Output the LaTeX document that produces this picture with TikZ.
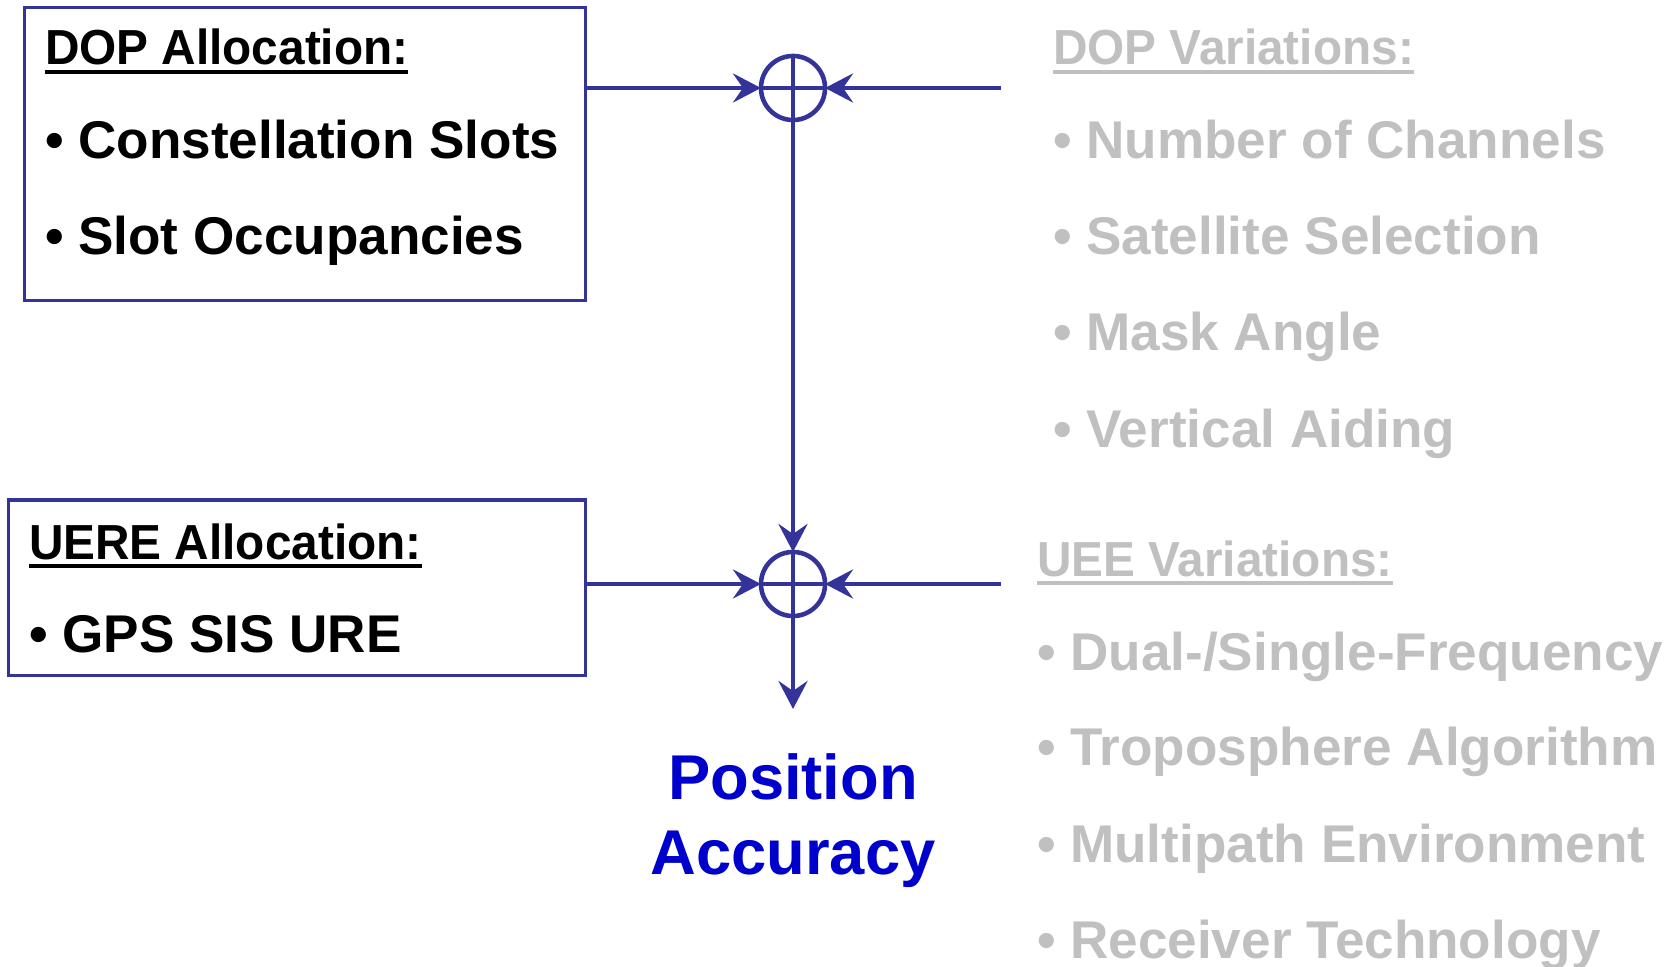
\documentclass[tikz,border=0pt]{standalone}
\usepackage{fontspec}
\setmainfont{Liberation Sans}
\newfontfamily\narrowfont{Liberation Sans}[FakeStretch=0.97]
\usepackage{tikz}
\usetikzlibrary{arrows.meta}
\definecolor{lineblue}{RGB}{51,51,153}
\definecolor{textblue}{RGB}{0,0,204}
\definecolor{lightgray}{RGB}{192,192,192}

\begin{document}
\begin{tikzpicture}[x=0.01cm, y=-0.01cm]
	\tikzstyle{every node} = [inner sep=0pt, outer sep=0pt]
	\tikzstyle{box} = [draw=lineblue, line width=0.9pt, anchor=north west]
	\tikzstyle{head} = [font=\narrowfont\bfseries\fontsize{14}{16}\selectfont, anchor=base west]
	\tikzstyle{item} = [font=\bfseries\fontsize{15.1}{18}\selectfont, anchor=base west]
	\tikzstyle{sum} = [circle, draw=lineblue, line width=1.3pt, minimum size=0.64cm,
		path picture={\draw[lineblue, line width=1.3pt] (path picture bounding box.north) -- (path picture bounding box.south) (path picture bounding box.west) -- (path picture bounding box.east);}]
	\tikzstyle{flow} = [draw=lineblue, line width=1.3pt, -{Stealth[length=0.28cm, width=0.29cm, inset=0.1cm]}]
	\useasboundingbox (0,0) rectangle (1673,967);
	\node[box, minimum width=5.605cm, minimum height=2.925cm] (dopbox) at (24.5,7.5) {};
	\node[box, minimum width=5.765cm, minimum height=1.75cm] (uerebox) at (8.5,500) {};
	\node[sum] (sum1) at (793,88) {};
	\node[sum] (sum2) at (793,584) {};
	\coordinate (dopin) at (1001,88);
	\coordinate (uein) at (1001,584);
	\coordinate (out) at (793,709);
	% left allocations
	\node[head] (dophead) at (45,65) {DOP Allocation:};
	\node[item] (slots) at (45,159) {• Constellation Slots};
	\node[item] (occ) at (45,255) {• Slot Occupancies};
	\node[head] (uerehead) at (29,559) {UERE Allocation:};
	\node[item] (sisure) at (29,652) {• GPS SIS URE};
	% right variations
	\node[head, text=lightgray] (dopvarhead) at (1053,65) {DOP Variations:};
	\node[item, text=lightgray] (chan) at (1053,159) {• Number of Channels};
	\node[item, text=lightgray] (satsel) at (1053,255) {• Satellite Selection};
	\node[item, text=lightgray] (mask) at (1053,351) {• Mask Angle};
	\node[item, text=lightgray] (vert) at (1053,447) {• Vertical Aiding};
	\node[head, text=lightgray] (ueevarhead) at (1037,576) {UEE Variations:};
	\node[item, text=lightgray] (freq) at (1037,670) {• Dual-/Single-Frequency};
	\node[item, text=lightgray] (tropo) at (1037,765) {• Troposphere Algorithm};
	\node[item, text=lightgray] (multi) at (1037,862) {• Multipath Environment};
	\node[item, text=lightgray] (recv) at (1037,958) {• Receiver Technology};
	% result
	\node[font=\bfseries\fontsize{18}{21}\selectfont, text=textblue, anchor=base] (pos) at (793,799) {Position};
	\node[font=\bfseries\fontsize{18}{21}\selectfont, text=textblue, anchor=base] (acc) at (793,874) {Accuracy};
	% underlines
	\draw[line width=1.1pt] ([yshift=-2pt]dophead.base west) -- ([yshift=-2pt]dophead.base east);
	\draw[line width=1.1pt] ([yshift=-2pt]uerehead.base west) -- ([yshift=-2pt]uerehead.base east);
	\draw[lightgray, line width=1.1pt] ([yshift=-2pt]dopvarhead.base west) -- ([yshift=-2pt]dopvarhead.base east);
	\draw[lightgray, line width=1.1pt] ([yshift=-2pt]ueevarhead.base west) -- ([yshift=-2pt]ueevarhead.base east);
	% connectors
	\draw[flow] (dopbox.east |- sum1) -- (sum1);
	\draw[flow] (dopin) -- (sum1);
	\draw[flow] (sum1) -- (sum2);
	\draw[flow] (uerebox.east |- sum2) -- (sum2);
	\draw[flow] (uein) -- (sum2);
	\draw[flow] (sum2) -- (out);
\end{tikzpicture}
\end{document}
